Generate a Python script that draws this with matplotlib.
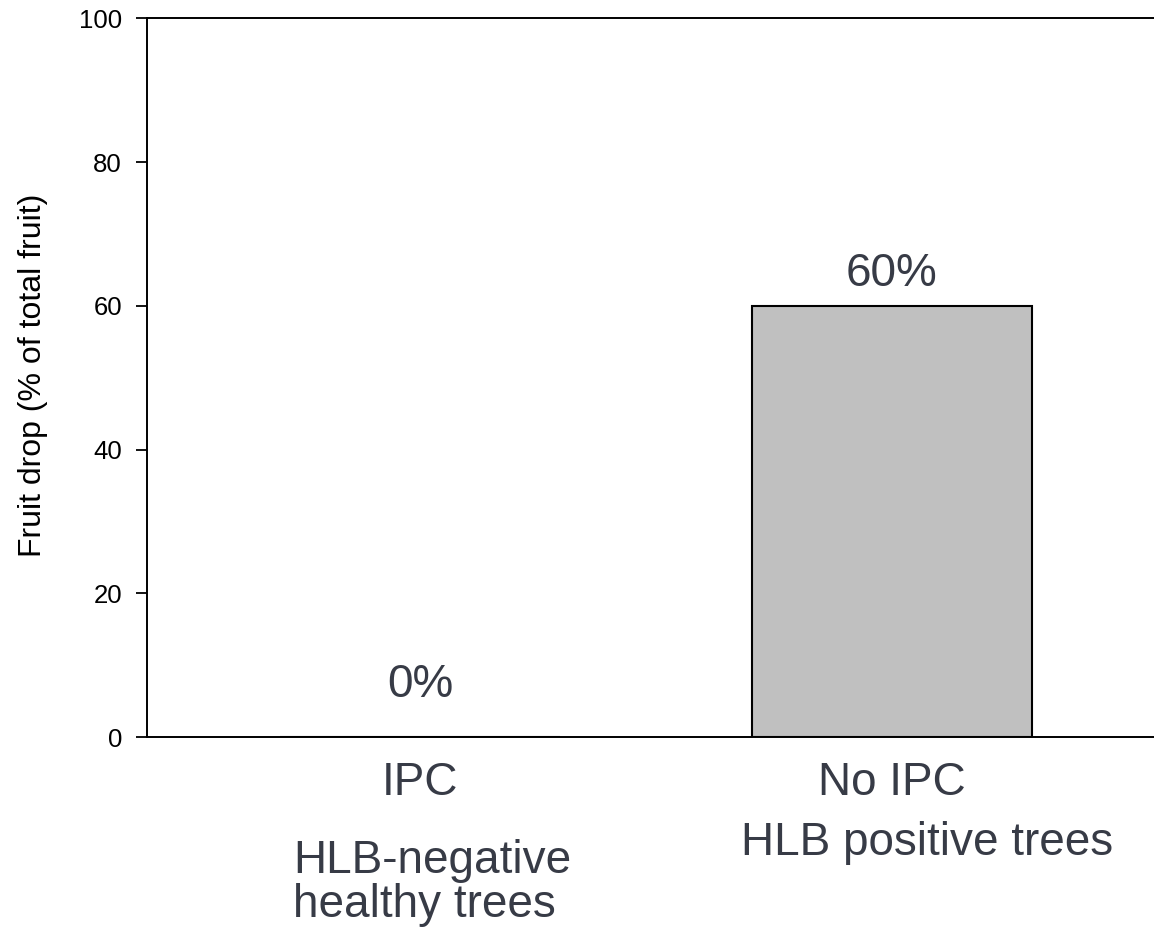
import matplotlib.pyplot as plt
import numpy as np

plt.rcParams['font.family'] = ['Liberation Sans', 'DejaVu Sans']

groups = ['IPC', 'No IPC']
fruit_drop = [0, 60]
value_labels = [f'{v}%' for v in fruit_drop]
yticks = [0, 20, 40, 60, 80, 100]

txt_col = '#373b46'

fig = plt.figure(figsize=(11.54, 9.39), dpi=100)
ax = fig.add_axes([0.1274, 0.2151, 0.8726, 0.7652])

x = np.arange(len(groups))
ax.bar(x, fruit_drop, width=0.593, color='#c0c0c0', edgecolor='black', linewidth=1.5)

ax.set_xlim(-0.578, 1.555)
ax.set_ylim(0, 100)
ax.set_yticks(yticks)
ax.set_xticks([])
ax.tick_params(axis='y', length=8, width=1.3, pad=10, labelsize=18.5, colors='black')
ax.spines['right'].set_visible(False)
for s in ['left', 'bottom', 'top']:
    ax.spines[s].set_linewidth(1.4)

# percent labels above bars
pads = [5.6, 2.8]
for xi, v, lab, p in zip(x, fruit_drop, value_labels, pads):
    ax.text(xi, v + p, lab, ha='center', va='baseline', fontsize=33, color=txt_col)

# group names under the axis
tr = ax.get_xaxis_transform()
for xi, g in zip(x, groups):
    ax.text(xi, -0.0807, g, transform=tr, ha='center', va='baseline',
            fontsize=33, color=txt_col, clip_on=False)

ax.text(-0.269, -0.189, 'HLB-negative', transform=tr, ha='left', va='baseline',
        fontsize=33, color=txt_col, clip_on=False)
ax.text(-0.269, -0.2505, 'healthy trees', transform=tr, ha='left', va='baseline',
        fontsize=33, color=txt_col, clip_on=False)
ax.text(1.075, -0.164, 'HLB positive trees', transform=tr, ha='center', va='baseline',
        fontsize=33, color=txt_col, clip_on=False)

fig.text(33 / 1154, 1 - 375 / 939, 'Fruit drop (% of total fruit)', rotation=90,
         ha='center', va='center', fontsize=23, color='black')

fig.savefig('out.png', dpi=100)
